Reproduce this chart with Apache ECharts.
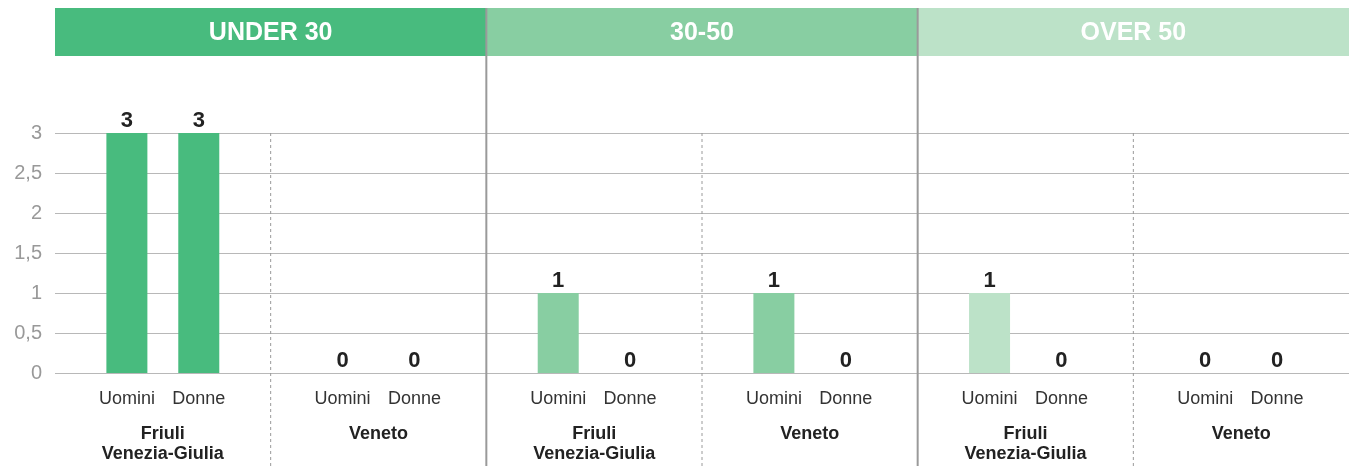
<!DOCTYPE html>
<html>
<head>
<meta charset="utf-8">
<script src="https://cdn.jsdelivr.net/npm/echarts@6/dist/echarts.min.js"></script>
<style>
html,body{margin:0;padding:0;background:#fff;}
#chart{width:1349px;height:466px;}
</style>
</head>
<body>
<div id="chart"></div>
<script>
// ---- data ----
const ageGroups = ['UNDER 30', '30-50', 'OVER 50'];
const regions = ['Friuli\nVenezia-Giulia', 'Veneto'];
const sexes = ['Uomini', 'Donne'];
// values per age group: [FVG Uomini, FVG Donne, Veneto Uomini, Veneto Donne]
const under30 = [3, 3, 0, 0];
const age30to50 = [1, 0, 1, 0];
const over50 = [1, 0, 0, 0];
const yTicks = ['0', '0,5', '1', '1,5', '2', '2,5', '3'];

const groupValues = [under30, age30to50, over50];
const groupColors = ['#48bb7e', '#88cea2', '#bce2c8'];

// ---- layout helpers (slot units on a value x-axis) ----
const SLOTS_PER_REGION = sexes.length + 1;
const SLOTS_PER_GROUP = SLOTS_PER_REGION * regions.length;
const TOTAL = SLOTS_PER_GROUP * ageGroups.length;
const FONT = '"Liberation Sans", Arial, Helvetica, sans-serif';

const barData = [];
const sexPositions = [];
const regionPositions = [];
groupValues.forEach((vals, g) => {
  regions.forEach((r, ri) => {
    const base = g * SLOTS_PER_GROUP + ri * SLOTS_PER_REGION;
    regionPositions.push(base + SLOTS_PER_REGION / 2);
    sexes.forEach((s, si) => {
      const x = base + si + 1;
      sexPositions.push(x);
      barData.push({ value: [x, vals[ri * sexes.length + si]], itemStyle: { color: groupColors[g] } });
    });
  });
});
const separators = [];
for (let i = 1; i < ageGroups.length * regions.length; i++) {
  separators.push([i * SLOTS_PER_REGION, i % regions.length === 0 ? 1 : 0]);
}

const chart = echarts.init(document.getElementById('chart'), null, { renderer: 'canvas' });
const HEADER_TOP = 8, HEADER_BOTTOM = 56;

chart.setOption({
  animation: false,
  textStyle: { fontFamily: FONT },
  grid: { left: 55, right: 0, top: 133, bottom: 93, containLabel: false, outerBoundsMode: 'none' },
  xAxis: [
    {
      type: 'value', min: 0, max: TOTAL,
      axisLine: { show: false }, axisTick: { show: false }, splitLine: { show: false },
      axisLabel: {
        customValues: sexPositions,
        formatter: v => sexes[(Math.round(v) % SLOTS_PER_REGION) - 1],
        color: '#333', fontSize: 18, margin: 17, fontFamily: FONT
      }
    },
    {
      type: 'value', min: 0, max: TOTAL, position: 'bottom',
      axisLine: { show: false }, axisTick: { show: false }, splitLine: { show: false },
      axisLabel: {
        customValues: regionPositions,
        formatter: v => regions[Math.floor(v / SLOTS_PER_REGION) % regions.length],
        color: '#222', fontSize: 18, fontWeight: 'bold', lineHeight: 20,
        margin: 51, fontFamily: FONT, verticalAlign: 'top'
      }
    }
  ],
  yAxis: {
    type: 'value', min: 0, max: 3, interval: 0.5,
    axisLine: { show: false }, axisTick: { show: false },
    splitLine: { lineStyle: { color: '#b8b8b8', width: 1.2 } },
    axisLabel: {
      color: '#999', fontSize: 20, margin: 13, fontFamily: FONT,
      formatter: v => yTicks[Math.round(v / 0.5)]
    }
  },
  series: [
    {
      type: 'custom',
      clip: false,
      z: 1,
      data: ageGroups.map((a, i) => [i]),
      renderItem: (params, api) => {
        const g = api.value(0);
        const x0 = api.coord([g * SLOTS_PER_GROUP, 0])[0];
        const x1 = api.coord([(g + 1) * SLOTS_PER_GROUP, 0])[0];
        return {
          type: 'group',
          children: [
            { type: 'rect', shape: { x: x0, y: HEADER_TOP, width: x1 - x0, height: HEADER_BOTTOM - HEADER_TOP },
              style: { fill: groupColors[g] } },
            { type: 'text', style: { text: ageGroups[g], x: (x0 + x1) / 2, y: (HEADER_TOP + HEADER_BOTTOM) / 2 + 1,
              align: 'center', verticalAlign: 'middle', fill: '#fff', font: 'bold 25px ' + FONT } }
          ]
        };
      }
    },
    {
      type: 'custom',
      clip: false,
      z: 3,
      data: separators,
      renderItem: (params, api) => {
        const x = api.coord([api.value(0), 0])[0];
        const solid = api.value(1) === 1;
        const yTop = solid ? HEADER_TOP : api.coord([0, 3])[1];
        return {
          type: 'line',
          shape: { x1: x, y1: yTop, x2: x, y2: 466 },
          style: solid ? { stroke: '#9a9a9a', lineWidth: 2 } : { stroke: '#9a9a9a', lineWidth: 1, lineDash: [3, 3] }
        };
      }
    },
    {
      type: 'bar',
      barWidth: 41,
      z: 2,
      data: barData,
      label: {
        show: true, position: 'top', distance: 1,
        color: '#222', fontSize: 22, fontWeight: 'bold', fontFamily: FONT,
        formatter: p => String(p.value[1])
      }
    }
  ]
});
</script>
</body>
</html>
